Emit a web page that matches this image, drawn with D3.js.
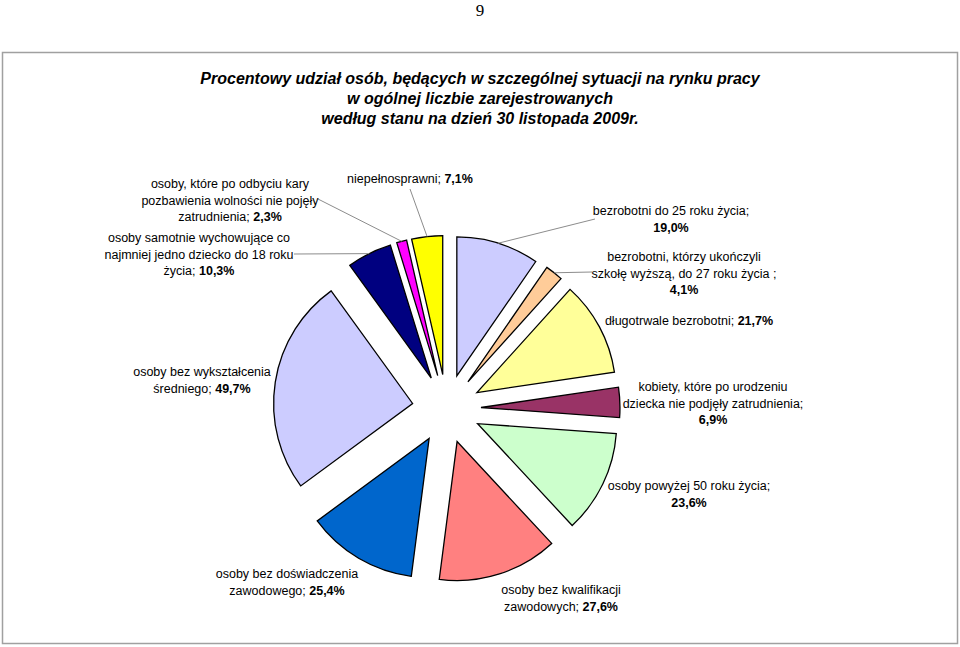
<!DOCTYPE html>
<html><head><meta charset="utf-8">
<script src="https://cdn.jsdelivr.net/npm/d3@7"></script>
<style>body{margin:0;background:#fff}svg{display:block}</style>
</head><body>
<svg id="c" width="960" height="647"></svg>
<script>
// ---- data ----
const categories = [
  "bezrobotni do 25 roku życia",
  "bezrobotni, którzy ukończyli|szkołę wyższą, do 27 roku życia ",
  "długotrwale bezrobotni",
  "kobiety, które po urodzeniu|dziecka nie podjęły zatrudnienia",
  "osoby powyżej 50 roku życia",
  "osoby bez kwalifikacji|zawodowych",
  "osoby bez doświadczenia|zawodowego",
  "osoby bez wykształcenia|średniego",
  "osoby samotnie wychowujące co|najmniej jedno dziecko do 18 roku|życia",
  "osoby, które po odbyciu kary|pozbawienia wolności nie pojęły|zatrudnienia",
  "niepełnosprawni"
];
const values = [19.0, 4.1, 21.7, 6.9, 23.6, 27.6, 25.4, 49.7, 10.3, 2.3, 7.1];
const colors = ["#CCCCFF","#FFCC99","#FFFF99","#993366","#CCFFCC","#FF8080","#0066CC","#CCCCFF","#000080","#FF00FF","#FFFF00"];
const titleLines = [
  "Procentowy udział osób, będących w szczególnej sytuacji na rynku pracy",
  "w ogólnej liczbie zarejestrowanych",
  "według stanu na dzień 30 listopada 2009r."
];

// ---- layout (not data) ----
const labelLayout = [
  {x:671, y:211, brk:true,  lead:[595,219]},
  {x:684, y:257, brk:true,  lead:[592,272]},
  {x:689, y:321, brk:false},
  {x:713, y:387, brk:true},
  {x:689, y:486, brk:true},
  {x:561, y:590, brk:false},
  {x:287, y:574, brk:false},
  {x:202, y:372, brk:false},
  {x:199, y:238, brk:false, lead:[294,254]},
  {x:230, y:184, brk:false, lead:[318,199]},
  {x:410, y:179, brk:false, lead:[410,189]}
];
const CX = 446.6, CY = 408.8, R = 139, EXPL = 34.4, LH = 16.2;

const fmt = v => v.toFixed(1).replace(".", ",") + "%";
const svg = d3.select("#c");
const font = "'Liberation Sans', Arial, Helvetica, sans-serif";

// page number
svg.append("text").attr("x", 480).attr("y", 16).attr("text-anchor","middle")
  .style("font-family","'Liberation Serif', 'Times New Roman', serif").style("font-size","17px").text("9");

// border
svg.append("rect").attr("x",2.5).attr("y",52.5).attr("width",955).attr("height",591)
  .attr("fill","none").attr("stroke","#a0a0a0").attr("stroke-width",1.5);

// title
svg.append("g").selectAll("text").data(titleLines).join("text")
  .attr("x", 480).attr("y", (d,i) => 84 + i*20).attr("text-anchor","middle")
  .style("font-family", font).style("font-size","16px").style("font-weight","bold").style("font-style","italic")
  .text(d => d);

// pie
const pie = d3.pie().sort(null).value(d => d).startAngle(0).endAngle(2*Math.PI);
const arcs = pie(values);
const arc = d3.arc().innerRadius(0).outerRadius(R);
const g = svg.append("g").attr("transform", `translate(${CX},${CY})`);
const mid = a => (a.startAngle + a.endAngle) / 2;

g.selectAll("path").data(arcs).join("path")
  .attr("transform", a => `translate(${EXPL*Math.sin(mid(a))},${-EXPL*Math.cos(mid(a))})`)
  .attr("d", arc)
  .attr("fill", (a,i) => colors[i])
  .attr("stroke", "#000").attr("stroke-width", 1.3).attr("stroke-linejoin","miter");

// leader lines
const leaders = arcs.map((a,i) => ({a, L: labelLayout[i]})).filter(d => d.L.lead);
svg.append("g").selectAll("line").data(leaders).join("line")
  .attr("x1", d => d.L.lead[0]).attr("y1", d => d.L.lead[1])
  .attr("x2", d => CX + (EXPL + R) * Math.sin(mid(d.a)))
  .attr("y2", d => CY - (EXPL + R) * Math.cos(mid(d.a)))
  .attr("stroke", "#8c8c8c").attr("stroke-width", 1);

// labels
const lg = svg.append("g").style("font-family", font).style("font-size","12.5px").attr("fill","#000");
categories.forEach((c, i) => {
  const L = labelLayout[i];
  const lines = c.split("|");
  const t = lg.append("text").attr("text-anchor","middle");
  lines.forEach((ln, j) => {
    const last = j === lines.length - 1;
    const ts = t.append("tspan").attr("x", L.x).attr("y", L.y + j*LH).attr("dy","0.35em");
    if (!last) { ts.text(ln); return; }
    if (L.brk) {
      ts.text(ln + ";");
      t.append("tspan").attr("x", L.x).attr("y", L.y + (j+1)*LH).attr("dy","0.35em")
        .style("font-weight","bold").text(fmt(values[i]));
    } else {
      ts.text(ln + "; ");
      ts.append("tspan").style("font-weight","bold").text(fmt(values[i]));
    }
  });
});
</script>
</body></html>
